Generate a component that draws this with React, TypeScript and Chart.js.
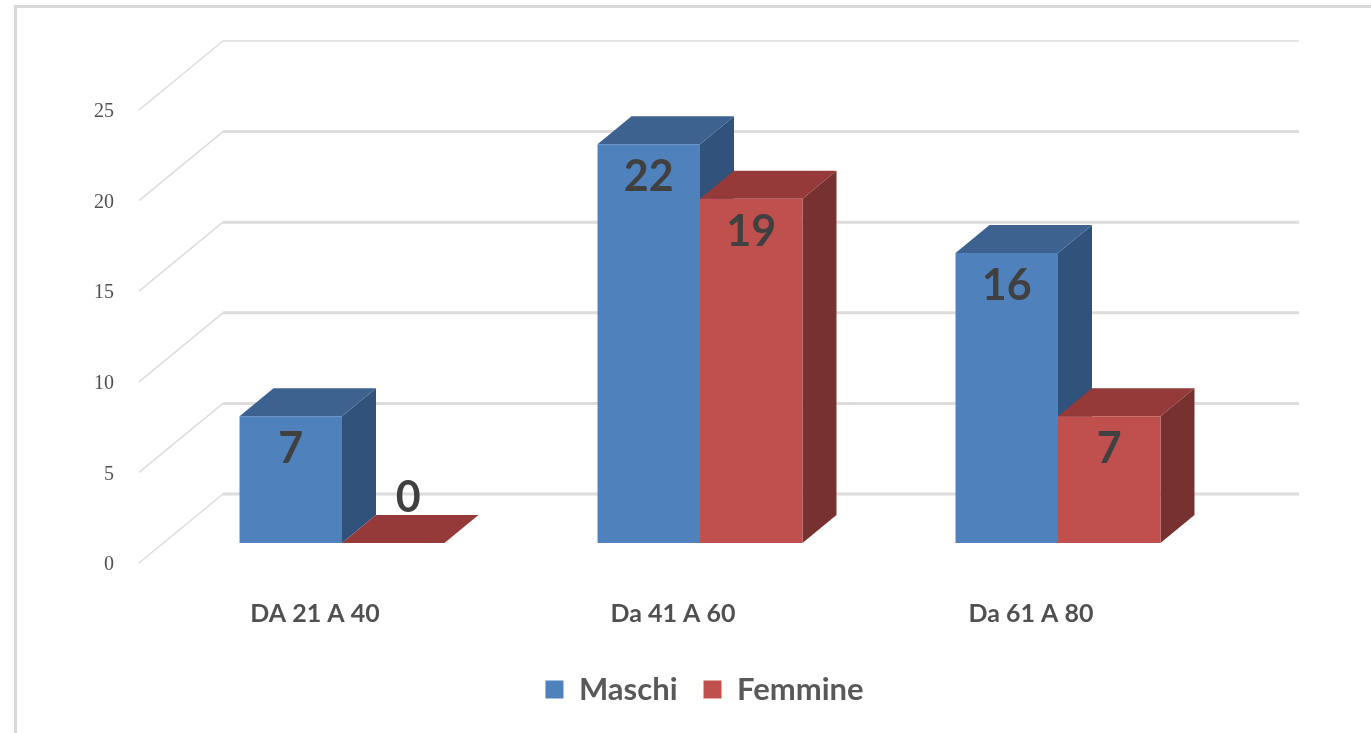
import React, { useEffect, useRef } from "react";
import { Chart, registerables } from "chart.js";

Chart.register(...registerables);

const categories = ["DA 21 A 40", "Da 41 A 60", "Da 61 A 80"];
const maschi = [7, 22, 16];
const femmine = [0, 19, 7];
const seriesNames = ["Maschi", "Femmine"];
const yMax = 25;
const yStep = 5;

const BLUE = "#4f81bd";
const RED = "#c0504d";
const FACES: Record<string, { top: string; side: string }> = {
  [BLUE]: { top: "#3e6290", side: "#31527b" },
  [RED]: { top: "#953a38", side: "#773130" },
};

const FONT = "Lato, 'Open Sans', sans-serif";
const BAR_DX = 34;
const BAR_DY = 28;
const WALL_DX = 84;
const WALL_DY = 69;
const FRONT_SHIFT_X = 24;
const FRONT_SHIFT_Y = 20;
const LEGEND_SHIFT_X = 86;

const wallPlugin = {
  id: "wall3d",
  afterLayout(chart: any) {
    chart.legend.left += LEGEND_SHIFT_X;
    chart.legend.right += LEGEND_SHIFT_X;
  },
  beforeDatasetsDraw(chart: any) {
    const { ctx, scales, chartArea } = chart;
    const y = scales.y;
    const x0 = chartArea.left - FRONT_SHIFT_X;
    const x1 = x0 + WALL_DX;
    const x2 = chartArea.right + FRONT_SHIFT_X + 38;
    ctx.save();
    ctx.strokeStyle = "#dcdcdc";
    y.ticks.forEach((t: any, i: number) => {
      const py = y.getPixelForValue(t.value) + FRONT_SHIFT_Y;
      ctx.lineWidth = 1.5;
      ctx.beginPath();
      ctx.moveTo(x0, py);
      ctx.lineTo(x1, py - WALL_DY);
      ctx.stroke();
      ctx.lineWidth = i === y.ticks.length - 1 ? 1.5 : 3;
      ctx.beginPath();
      ctx.moveTo(x1, py - WALL_DY);
      ctx.lineTo(x2, py - WALL_DY);
      ctx.stroke();
    });
    ctx.restore();
  },
};

const barsPlugin = {
  id: "bars3d",
  beforeDatasetDraw() {
    return false;
  },
  afterDatasetsDraw(chart: any) {
    const { ctx } = chart;
    const metas = chart.data.datasets.map((_: any, i: number) => chart.getDatasetMeta(i));
    categories.forEach((_, c) => {
      metas.forEach((meta: any) => {
        const color = meta.controller.getDataset().backgroundColor;
        const el = meta.data[c];
        const l = el.x - el.width / 2;
        const r = el.x + el.width / 2;
        const t = el.y;
        const b = el.base;
        ctx.save();
        ctx.fillStyle = FACES[color].side;
        ctx.beginPath();
        ctx.moveTo(r, t);
        ctx.lineTo(r + BAR_DX, t - BAR_DY);
        ctx.lineTo(r + BAR_DX, b - BAR_DY);
        ctx.lineTo(r, b);
        ctx.closePath();
        ctx.fill();
        ctx.fillStyle = FACES[color].top;
        ctx.beginPath();
        ctx.moveTo(l, t);
        ctx.lineTo(l + BAR_DX, t - BAR_DY);
        ctx.lineTo(r + BAR_DX, t - BAR_DY);
        ctx.lineTo(r, t);
        ctx.closePath();
        ctx.fill();
        ctx.restore();
        el.draw(ctx);
      });
    });
    ctx.save();
    ctx.fillStyle = "#404040";
    ctx.font = `bold 43px ${FONT}`;
    ctx.textAlign = "center";
    ctx.textBaseline = "middle";
    metas.forEach((meta: any) => {
      meta.data.forEach((el: any, i: number) => {
        const v = meta.controller.getDataset().data[i];
        if (v === 0) ctx.fillText(String(v), el.x + 15, el.y - 45);
        else ctx.fillText(String(v), el.x, el.y + 33);
      });
    });
    ctx.restore();
  },
};

export default function App() {
  const ref = useRef<HTMLCanvasElement>(null);
  useEffect(() => {
    document.body.style.margin = "0";
    document.body.style.background = "#fff";
    const chart = new Chart(ref.current!, {
      type: "bar",
      data: {
        labels: categories,
        datasets: [
          { label: seriesNames[0], data: maschi, backgroundColor: BLUE, categoryPercentage: 0.5725, barPercentage: 1 },
          { label: seriesNames[1], data: femmine, backgroundColor: RED, categoryPercentage: 0.5725, barPercentage: 1 },
        ],
      },
      options: {
        animation: false,
        responsive: false,
        layout: { padding: { top: 90, right: 134, bottom: 18, left: 0 } },
        plugins: {
          tooltip: { enabled: false },
          legend: {
            position: "bottom",
            labels: {
              font: { family: FONT, size: 31, weight: "bold" },
              color: "#595959",
              boxWidth: 18,
              boxHeight: 18,
              padding: 26,
            },
          },
        },
        scales: {
          x: {
            grid: { display: false },
            border: { display: false },
            afterFit(s: any) { s.height = 105; },
            ticks: {
              color: "#505050",
              font: { family: FONT, size: 25, weight: "bold" },
              padding: 48,
              labelOffset: -27,
              maxRotation: 0,
            },
          },
          y: {
            min: 0,
            max: yMax,
            grid: { display: false },
            border: { display: false },
            afterFit(s: any) { s.width = 163; },
            ticks: {
              stepSize: yStep,
              color: "#505050",
              font: { family: "'Liberation Serif', serif", size: 20 },
              padding: 41,
              labelOffset: 22,
            },
          },
        },
      },
      plugins: [wallPlugin, barsPlugin],
    } as any);
    return () => chart.destroy();
  }, []);
  return (
    <div style={{ position: "relative", width: 1371, height: 733, overflow: "hidden", background: "#fff" }}>
      <canvas ref={ref} width={1371} height={733} style={{ position: "absolute", left: 0, top: 0 }} />
      <div style={{ position: "absolute", left: 14, top: 5, right: 0, bottom: 0, borderTop: "3px solid #d9d9d9", borderLeft: "3px solid #d9d9d9", pointerEvents: "none" }} />
    </div>
  );
}
